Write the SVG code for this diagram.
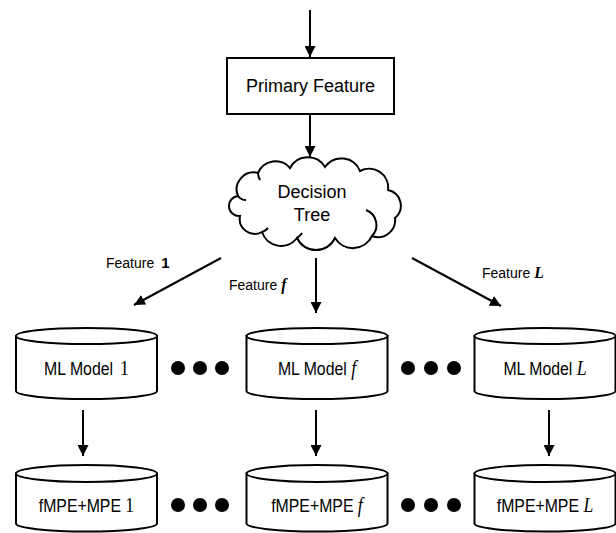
<svg xmlns="http://www.w3.org/2000/svg" width="616" height="533" viewBox="0 0 616 533">
  <style>
    .shape { fill: #ffffff; stroke: #000000; stroke-width: 2; }
    .edge { fill: none; stroke: #000000; stroke-width: 2; }
    .txt { font-family: "Liberation Sans", Arial, sans-serif; fill: #000000; }
    .lbl { font-size: 18px; text-anchor: middle; }
    .cyl { font-size: 18px; text-anchor: middle; }
    .small { font-size: 14px; }
    .math { font-family: "Liberation Serif", "DejaVu Serif", serif; font-size: 1.12em; }
    .dot { fill: #000000; }
  </style>
  <defs>
    <marker id="arrow" viewBox="0 0 10 10" refX="10" refY="5" markerWidth="5.5" markerHeight="5.5" markerUnits="strokeWidth" orient="auto">
      <path d="M0,0 L10,5 L0,10 Z" fill="#000000"/>
    </marker>
    <!-- cylinders centred on x=0, top ellipse centred on y=0 -->
    <g id="cylinder">
      <path class="shape" d="M-70.5,0 L-70.5,55 A70.5,8 0 0 0 70.5,55 L70.5,0 Z"/>
      <ellipse class="shape" cx="0" cy="0" rx="70.5" ry="8"/>
    </g>
    <g id="cylinder-short">
      <path class="shape" d="M-70.5,0 L-70.5,50 A70.5,8 0 0 0 70.5,50 L70.5,0 Z"/>
      <ellipse class="shape" cx="0" cy="0" rx="70.5" ry="8.5"/>
    </g>
  </defs>

  <!-- connectors -->
  <g id="connectors">
    <line class="edge" x1="310" y1="10" x2="310" y2="57" marker-end="url(#arrow)"/>
    <line class="edge" x1="310" y1="114" x2="310" y2="157" marker-end="url(#arrow)"/>
    <line class="edge" x1="221" y1="258" x2="134" y2="305" marker-end="url(#arrow)"/>
    <line class="edge" x1="316" y1="258" x2="316" y2="313" marker-end="url(#arrow)"/>
    <line class="edge" x1="412" y1="258" x2="501" y2="306" marker-end="url(#arrow)"/>
    <line class="edge" x1="83" y1="410" x2="83" y2="456" marker-end="url(#arrow)"/>
    <line class="edge" x1="316" y1="410" x2="316" y2="456" marker-end="url(#arrow)"/>
    <line class="edge" x1="549" y1="410" x2="549" y2="456" marker-end="url(#arrow)"/>
  </g>

  <!-- top box -->
  <g id="primary-feature">
    <rect class="shape" x="227" y="58" width="167" height="56"/>
    <text class="txt lbl" x="310.5" y="92">Primary Feature</text>
  </g>

  <!-- cloud -->
  <g id="decision-tree">
    <path class="shape" d="M238,196 A17,17 0 0 1 258,173 A19,19 0 0 1 290,168 A20,20 0 0 1 325,167 A20,20 0 0 1 360,171 A19,19 0 0 1 388,190 A16,16 0 0 1 395,218 A17,17 0 0 1 372,236 A21,21 0 0 1 335,238 A21,21 0 0 1 297,238 A20,20 0 0 1 262,232 A15,15 0 0 1 240,216 A10,10 0 0 1 238,196 Z"/>
    <path class="edge" d="M238,196 A10,10 0 0 0 246,200 M258,173 A14,14 0 0 0 260,180 M372,236 A16,16 0 0 0 366,210 M297,238 A18,18 0 0 0 302,233 M262,232 A12,12 0 0 0 268,228"/>
    <text class="txt lbl" x="312" y="198">Decision</text>
    <text class="txt lbl" x="312" y="221">Tree</text>
  </g>

  <!-- branch labels -->
  <g id="branch-labels">
    <text class="txt small" x="106" y="268">Feature <tspan font-weight="bold" font-size="15" dx="3">1</tspan></text>
    <text class="txt small" x="229" y="290">Feature <tspan class="math" font-weight="bold" font-style="italic">f</tspan></text>
    <text class="txt small" x="482" y="278">Feature <tspan class="math" font-weight="bold" font-style="italic">L</tspan></text>
  </g>

  <!-- model row -->
  <g id="ml-model-1">
    <use href="#cylinder" x="86.5" y="336"/>
    <text class="txt cyl" transform="translate(86.5,374.5) scale(0.88,1)">ML Model <tspan class="math" dx="3">1</tspan></text>
  </g>
  <g id="ml-model-f">
    <use href="#cylinder" x="317" y="336"/>
    <text class="txt cyl" transform="translate(317,374.5) scale(0.88,1)">ML Model <tspan class="math" font-style="italic">f</tspan></text>
  </g>
  <g id="ml-model-L">
    <use href="#cylinder" x="545" y="336"/>
    <text class="txt cyl" transform="translate(545,374.5) scale(0.88,1)">ML Model <tspan class="math" font-style="italic">L</tspan></text>
  </g>
  <g id="ellipsis-models">
    <circle class="dot" cx="178" cy="368" r="7"/>
    <circle class="dot" cx="200" cy="368" r="7"/>
    <circle class="dot" cx="222" cy="368" r="7"/>
    <circle class="dot" cx="408" cy="368" r="7"/>
    <circle class="dot" cx="431" cy="368" r="7"/>
    <circle class="dot" cx="454" cy="368" r="7"/>
  </g>

  <!-- fMPE+MPE row -->
  <g id="mpe-1">
    <use href="#cylinder-short" x="86.5" y="473.5"/>
    <text class="txt cyl" transform="translate(86.5,511.5) scale(0.88,1)">fMPE+MPE <tspan class="math">1</tspan></text>
  </g>
  <g id="mpe-f">
    <use href="#cylinder-short" x="317" y="473.5"/>
    <text class="txt cyl" transform="translate(317,511.5) scale(0.88,1)">fMPE+MPE <tspan class="math" font-style="italic">f</tspan></text>
  </g>
  <g id="mpe-L">
    <use href="#cylinder-short" x="545" y="473.5"/>
    <text class="txt cyl" transform="translate(545,511.5) scale(0.88,1)">fMPE+MPE <tspan class="math" font-style="italic">L</tspan></text>
  </g>
  <g id="ellipsis-mpe">
    <circle class="dot" cx="178" cy="505" r="7"/>
    <circle class="dot" cx="200" cy="505" r="7"/>
    <circle class="dot" cx="222" cy="505" r="7"/>
    <circle class="dot" cx="408" cy="505" r="7"/>
    <circle class="dot" cx="431" cy="505" r="7"/>
    <circle class="dot" cx="454" cy="505" r="7"/>
  </g>
</svg>
